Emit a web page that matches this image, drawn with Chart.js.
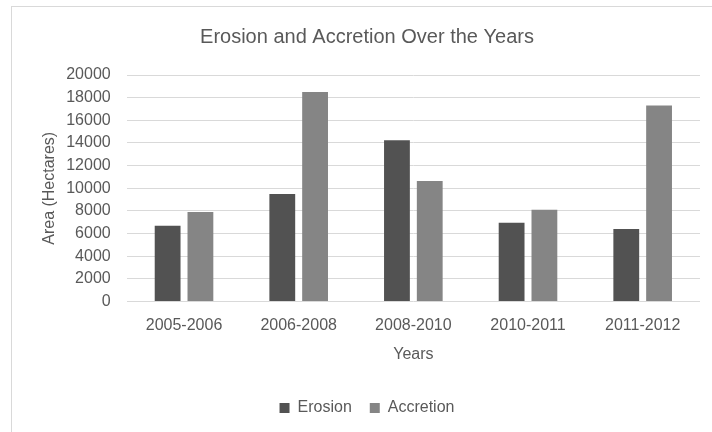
<!DOCTYPE html>
<html>
<head>
<meta charset="utf-8">
<script src="https://cdn.jsdelivr.net/npm/chart.js@4"></script>
<style>
  html, body { margin: 0; padding: 0; width: 712px; height: 432px; overflow: hidden; background: #ffffff; }
  #frame { position: absolute; left: 11px; top: 6px; width: 760px; height: 480px;
           border-left: 1px solid #d9d9d9; border-top: 1px solid #d9d9d9; pointer-events: none; }
  #wrap { position: absolute; left: 0; top: 0; width: 712px; height: 432px; }
</style>
</head>
<body>
<div id="frame"></div>
<div id="wrap"><canvas id="c" width="712" height="432"></canvas></div>
<script>
const categories = ['2005-2006', '2006-2008', '2008-2010', '2010-2011', '2011-2012'];
const erosion = [6700, 9500, 14250, 6950, 6400];
const accretion = [7900, 18500, 10650, 8100, 17300];
const seriesNames = ['Erosion', 'Accretion'];
const chartTitle = 'Erosion and Accretion Over the Years';
const xTitle = 'Years';
const yTitle = 'Area (Hectares)';

const FONT = "'Liberation Sans', Arial, sans-serif";
const TEXT = '#595959';

new Chart(document.getElementById('c'), {
  type: 'bar',
  data: {
    labels: categories,
    datasets: [
      { label: seriesNames[0], data: erosion, backgroundColor: '#525252',
        categoryPercentage: 0.572, barPercentage: 0.787 },
      { label: seriesNames[1], data: accretion, backgroundColor: '#858585',
        categoryPercentage: 0.572, barPercentage: 0.787 }
    ]
  },
  options: {
    responsive: false,
    animation: false,
    devicePixelRatio: 1,
    layout: { padding: { left: 34, right: 12, top: 7, bottom: 6 } },
    plugins: {
      title: {
        display: true, text: chartTitle, color: TEXT,
        font: { family: FONT, size: 20, weight: 'normal' },
        padding: { top: 18, bottom: 26 }
      },
      legend: {
        position: 'bottom',
        labels: {
          color: TEXT, font: { family: FONT, size: 16 },
          boxWidth: 10, boxHeight: 10, padding: 18
        }
      },
      tooltip: { enabled: false }
    },
    scales: {
      x: {
        grid: { display: false },
        border: { display: false },
        ticks: { color: TEXT, font: { family: FONT, size: 16 }, padding: 6 },
        title: { display: true, text: xTitle, color: TEXT,
                 font: { family: FONT, size: 16 }, padding: { top: 4, bottom: 18 } }
      },
      y: {
        min: 0, max: 20000,
        ticks: { stepSize: 2000, autoSkip: false, color: TEXT,
                 font: { family: FONT, size: 16 }, padding: 16,
                 callback: (v) => String(v) },
        grid: { color: '#d9d9d9', lineWidth: 1, drawTicks: false },
        border: { display: false },
        title: { display: true, text: yTitle, color: TEXT,
                 font: { family: FONT, size: 16 }, padding: { top: 6, bottom: -9 } }
      }
    }
  }
});
</script>
</body>
</html>
